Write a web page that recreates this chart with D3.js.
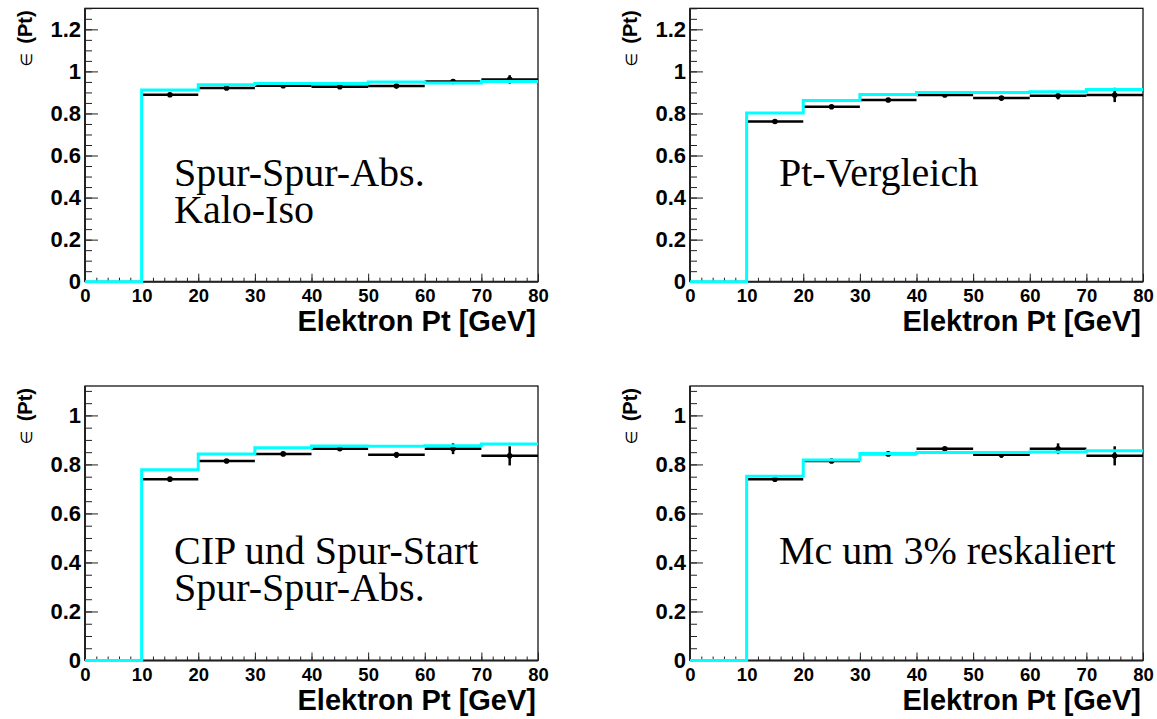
<html>
<head>
  <meta charset="utf-8">
  <title>Elektron Effizienz - 4 Schnitte</title>
  <style>
    body {
      margin: 0;
      background: #fff;
    }
    svg text {
      font-family: "Liberation Sans", Arial, sans-serif;
      font-weight: bold;
      fill: #000;
    }
    .note {
      font-family: "Liberation Serif", "Times New Roman", serif;
      font-weight: normal;
      font-size: 40px;
    }
    .tick line { stroke: #222; }
    .domain { display: none; }
  </style>
  <script src="https://d3js.org/d3.v7.min.js"></script>
</head>
<body>
  <div id="chart"></div>

  <script>
    // bin edges (GeV) and tick labels
    const binEdges = [0, 10, 20, 30, 40, 50, 60, 70, 80];
    const xTickValues = [0, 10, 20, 30, 40, 50, 60, 70, 80];
    const yTicksTop = [0, 0.2, 0.4, 0.6, 0.8, 1, 1.2];
    const yTicksBottom = [0, 0.2, 0.4, 0.6, 0.8, 1];
    const xTitle = "Elektron Pt [GeV]";

    // Spur-Spur-Abs. + Kalo-Iso
    const effSpurKalo = [null, 0.889, 0.921, 0.932, 0.927, 0.930, 0.952, 0.962];
    const errSpurKalo = [0, 0.004, 0.003, 0.003, 0.004, 0.005, 0.012, 0.020];
    const mcSpurKalo = [0, 0.912, 0.936, 0.942, 0.942, 0.950, 0.945, 0.952];

    // Pt-Vergleich
    const effPtVgl = [null, 0.762, 0.832, 0.864, 0.888, 0.873, 0.884, 0.888];
    const errPtVgl = [0, 0.005, 0.005, 0.006, 0.006, 0.010, 0.017, 0.034];
    const mcPtVgl = [0, 0.802, 0.862, 0.890, 0.900, 0.900, 0.903, 0.914];

    // CIP und Spur-Start + Spur-Spur-Abs.
    const effCip = [null, 0.740, 0.814, 0.843, 0.864, 0.839, 0.864, 0.835];
    const errCip = [0, 0.004, 0.005, 0.006, 0.007, 0.012, 0.022, 0.039];
    const mcCip = [0, 0.778, 0.843, 0.868, 0.875, 0.874, 0.876, 0.883];

    // Mc um 3% reskaliert
    const effResc = [null, 0.740, 0.814, 0.843, 0.864, 0.839, 0.864, 0.835];
    const errResc = [0, 0.004, 0.005, 0.006, 0.007, 0.012, 0.022, 0.039];
    const mcResc = [0, 0.752, 0.818, 0.845, 0.849, 0.849, 0.851, 0.856];

    const panels = [
      { col: 0, row: 0, eff: effSpurKalo, err: errSpurKalo, mc: mcSpurKalo, yMax: 1.3, yTicks: yTicksTop, note: ["Spur-Spur-Abs.", "Kalo-Iso"] },
      { col: 1, row: 0, eff: effPtVgl, err: errPtVgl, mc: mcPtVgl, yMax: 1.3, yTicks: yTicksTop, note: ["Pt-Vergleich"] },
      { col: 0, row: 1, eff: effCip, err: errCip, mc: mcCip, yMax: 1.12, yTicks: yTicksBottom, note: ["CIP und Spur-Start", "Spur-Spur-Abs."] },
      { col: 1, row: 1, eff: effResc, err: errResc, mc: mcResc, yMax: 1.12, yTicks: yTicksBottom, note: ["Mc um 3% reskaliert"] }
    ];

    // frame positions of the 2x2 grid
    const colLeft = [85, 690];
    const frameWidth = 453;
    const rowTop = [8.3, 386];
    const rowBottom = [281.7, 660.5];

    const svg = d3.select("#chart")
      .append("svg")
      .attr("width", 1157)
      .attr("height", 719);

    panels.forEach(p => {
      const left = colLeft[p.col];
      const right = left + frameWidth;
      const top = rowTop[p.row];
      const bottom = rowBottom[p.row];

      const x = d3.scaleLinear().domain([0, 80]).range([left, right]);
      const y = d3.scaleLinear().domain([0, p.yMax]).range([bottom, top]);

      const g = svg.append("g");

      // frame
      g.append("rect")
        .attr("x", left).attr("y", top)
        .attr("width", right - left).attr("height", bottom - top)
        .attr("fill", "none")
        .attr("stroke", "#000")
        .attr("stroke-width", 1.2);

      // x axis: minor then major ticks, drawn inward
      g.append("g")
        .attr("transform", `translate(0,${bottom})`)
        .call(d3.axisBottom(x).tickValues(d3.range(0, 81, 2)).tickSize(-4).tickFormat(""));
      g.append("g")
        .attr("transform", `translate(0,${bottom})`)
        .call(d3.axisBottom(x).tickValues(xTickValues).tickSize(-8).tickPadding(7))
        .selectAll("text").style("font-size", "18.5px");

      // y axis
      const minorY = d3.range(0, Math.round(p.yMax * 20) + 1).map(i => i / 20);
      g.append("g")
        .attr("transform", `translate(${left},0)`)
        .call(d3.axisLeft(y).tickValues(minorY).tickSize(-7).tickFormat(""));
      g.append("g")
        .attr("transform", `translate(${left},0)`)
        .call(d3.axisLeft(y).tickValues(p.yTicks).tickSize(-13).tickPadding(4).tickFormat(d3.format("~g")))
        .selectAll("text").style("font-size", "22px");

      // axis lines
      g.append("line")
        .attr("x1", left).attr("x2", right).attr("y1", bottom).attr("y2", bottom)
        .attr("stroke", "#222").attr("stroke-width", 2);
      g.append("line")
        .attr("x1", left).attr("x2", left).attr("y1", top).attr("y2", bottom)
        .attr("stroke", "#222").attr("stroke-width", 2);

      // data points with error bars
      const pts = p.eff.map((v, i) => ({ lo: binEdges[i], hi: binEdges[i + 1], v: v, e: p.err[i] }))
        .filter(d => d.v !== null);
      const dg = g.append("g").attr("stroke", "#000").attr("stroke-width", 2.5);
      dg.selectAll(".xerr").data(pts).join("line")
        .attr("x1", d => x(d.lo)).attr("x2", d => x(d.hi))
        .attr("y1", d => y(d.v)).attr("y2", d => y(d.v));
      dg.selectAll(".yerr").data(pts).join("line")
        .attr("x1", d => x((d.lo + d.hi) / 2)).attr("x2", d => x((d.lo + d.hi) / 2))
        .attr("y1", d => y(d.v - d.e)).attr("y2", d => y(d.v + d.e));
      g.selectAll(".pt").data(pts).join("circle")
        .attr("cx", d => x((d.lo + d.hi) / 2))
        .attr("cy", d => y(d.v))
        .attr("r", 2.8)
        .attr("fill", "#000");

      // MC histogram as a step line
      const histPts = p.mc.map((v, i) => [binEdges[i], v]);
      histPts.push([binEdges[binEdges.length - 1], p.mc[p.mc.length - 1]]);
      const step = d3.line()
        .x(d => x(d[0]))
        .y(d => y(d[1]))
        .curve(d3.curveStepAfter);
      g.append("path")
        .datum(histPts)
        .attr("d", step)
        .attr("fill", "none")
        .attr("stroke", "#00ffff")
        .attr("stroke-width", 3);

      // cut description, one text with a line per tspan
      const note = g.append("text")
        .attr("class", "note")
        .attr("x", left + 89)
        .attr("y", top + 177.5);
      p.note.forEach((line, i) => {
        note.append("tspan")
          .attr("x", left + 89)
          .attr("dy", i === 0 ? 0 : 37.5)
          .text(line);
      });

      // axis titles
      g.append("text")
        .attr("x", right - 2)
        .attr("y", bottom + 49.5)
        .attr("text-anchor", "end")
        .style("font-size", "29px")
        .text(xTitle);

      const yt = g.append("text")
        .attr("transform", `translate(${left - 53},${top + 2}) rotate(-90)`)
        .attr("text-anchor", "end")
        .style("font-size", "20px");
      yt.append("tspan")
        .style("font-weight", "normal")
        .style("font-family", "'DejaVu Sans', sans-serif")
        .style("font-size", "16px")
        .text("\u2208");
      yt.append("tspan").attr("dx", 9).text("(Pt)");
    });
  </script>
</body>
</html>
